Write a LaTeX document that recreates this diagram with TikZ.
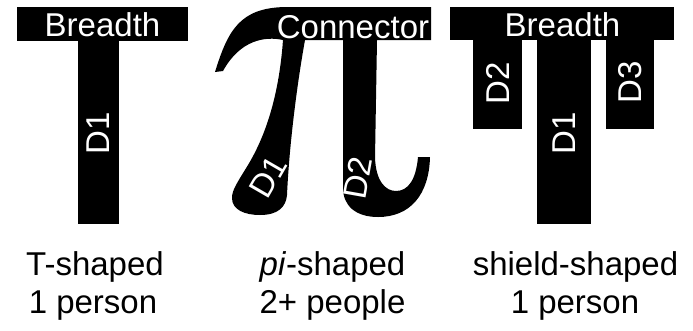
\documentclass[tikz,border=0pt]{standalone}
\usepackage{fontspec}
\setmainfont{Liberation Sans}
\begin{document}
\begin{tikzpicture}[x=1pt,y=-1pt,
  lbl/.style={text=white,font=\fontsize{33}{33}\selectfont,inner sep=0pt},
  caption/.style={font=\fontsize{33}{38}\selectfont,inner sep=0pt,anchor=base},
  blackfill/.style={fill=black}]
\useasboundingbox (0,0) rectangle (693,330);
% T-shaped
\fill[blackfill] (17,7) rectangle (188,41);
\fill[blackfill] (78,40) rectangle (119,224);
\node[lbl,anchor=base] (tb) at (102.5,36.5) {Breadth};
\node[lbl,rotate=90] (td1) at (98.5,133) {D1};
% pi-shaped
\fill[blackfill] (215,72) .. controls (228,30) and (240,8) .. (285,7)
  -- (431,7) -- (431,40) -- (377,40) -- (375,158)
  .. controls (376,182) and (386,191) .. (396,191)
  .. controls (408,191) and (416,180) .. (418,157)
  -- (430,157)
  .. controls (429,195) and (410,217) .. (378,217)
  .. controls (355,217) and (343,205) .. (343,188)
  -- (343,40) -- (305,40)
  .. controls (296,90) and (289,150) .. (287,195)
  .. controls (286,207) and (278,215) .. (260,215)
  .. controls (245,215) and (232,210) .. (232,198)
  .. controls (232,190) and (237,183) .. (248,165)
  .. controls (266,135) and (279,95) .. (283,40)
  .. controls (265,36) and (240,40) .. (223,71)
  -- cycle;
\node[lbl,anchor=base] (pc) at (353,38.5) {Connector};
\node[lbl,rotate=60] (pd1) at (268,177) {D1};
\node[lbl,rotate=80] (pd2) at (358,178) {D2};
% shield-shaped
\fill[blackfill] (450,7) rectangle (674,40);
\fill[blackfill] (473,39) rectangle (522,129);
\fill[blackfill] (537,39) rectangle (591,224);
\fill[blackfill] (606,39) rectangle (654,129);
\node[lbl,anchor=base] (sb) at (562.5,36.5) {Breadth};
\node[lbl,rotate=90] (sd2) at (497.5,83) {D2};
\node[lbl,rotate=90] (sd1) at (564,133) {D1};
\node[lbl,rotate=90] (sd3) at (630,82) {D3};
% captions
\node[caption] (c1a) at (95,275) {T-shaped};
\node[caption] (c1b) at (93,313.5) {1 person};
\node[caption] (c2a) at (332.5,275) {\textit{pi}-shaped};
\node[caption] (c2b) at (332.5,313.5) {2+ people};
\node[caption] (c3a) at (575.5,275) {shield-shaped};
\node[caption] (c3b) at (575,313.5) {1 person};
\end{tikzpicture}
\end{document}
